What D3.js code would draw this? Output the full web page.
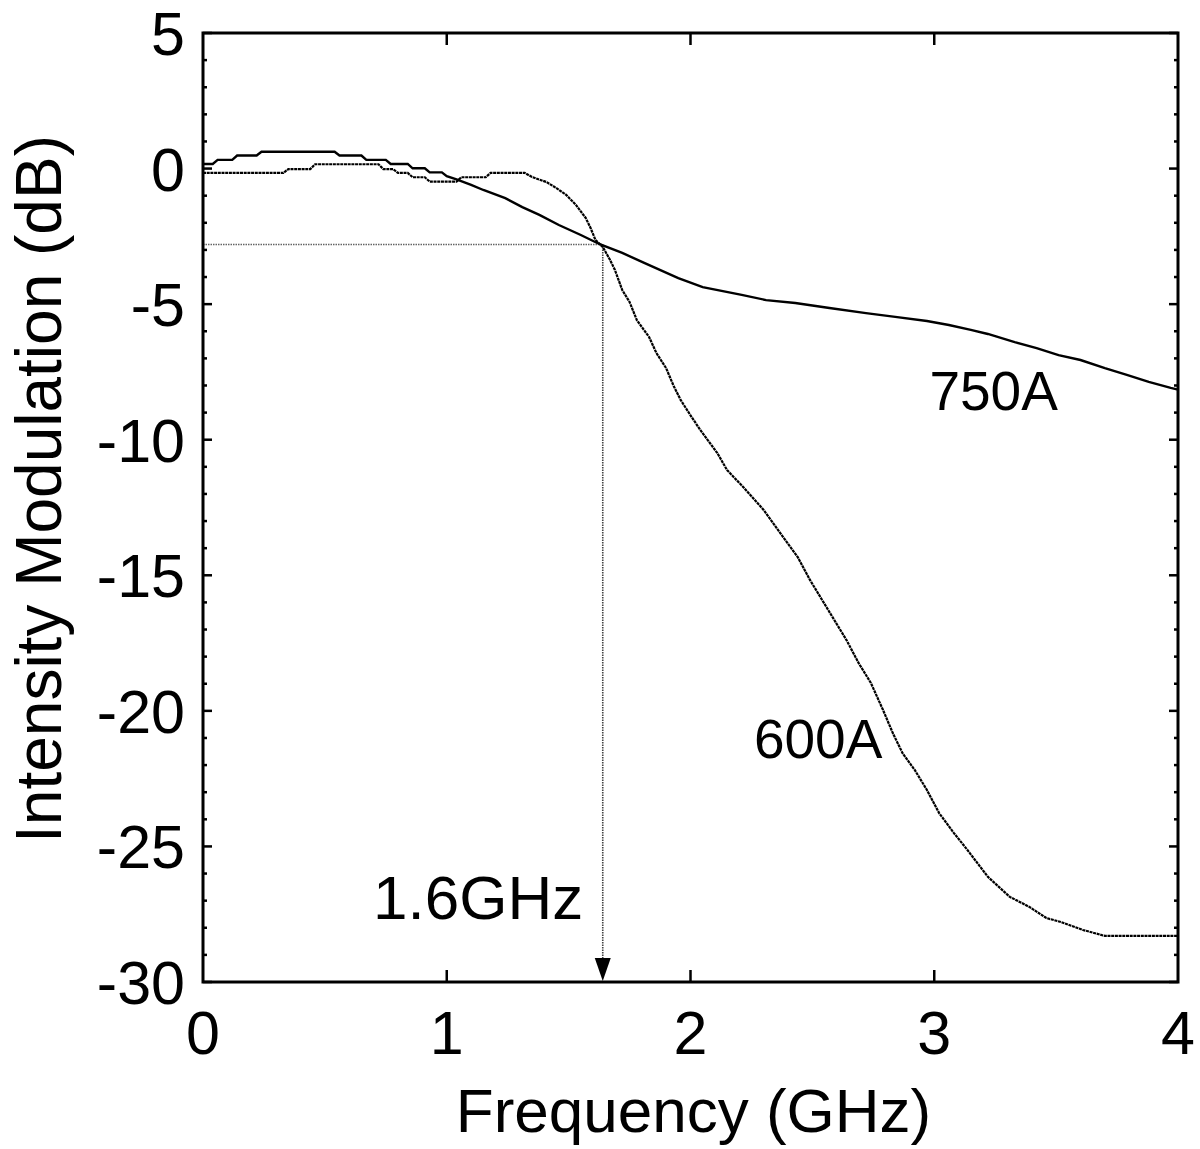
<!DOCTYPE html>
<html>
<head>
<meta charset="utf-8">
<script src="https://cdn.jsdelivr.net/npm/d3@7"></script>
<style>
  body { margin: 0; background: #fff; }
  svg text { font-family: "Liberation Sans", Arial, Helvetica, sans-serif; fill: #000; }
</style>
</head>
<body>
<div id="chart"></div>
<script>
// 750A trace (GHz, dB)
const freq750 = [0, 0.04, 0.06, 0.12, 0.14, 0.22, 0.24, 0.54, 0.56, 0.65, 0.67, 0.75, 0.77, 0.84, 0.86, 0.91, 0.93, 0.98, 1.00, 1.04, 1.10, 1.15, 1.24, 1.31, 1.38, 1.46, 1.55, 1.63, 1.72, 1.81, 1.95, 2.05, 2.21, 2.31, 2.43, 2.57, 2.72, 2.84, 2.97, 3.06, 3.15, 3.22, 3.33, 3.42, 3.51, 3.60, 3.70, 3.79, 3.88, 3.97, 4.0];
const db750 = [0.17, 0.17, 0.32, 0.32, 0.48, 0.48, 0.62, 0.62, 0.48, 0.48, 0.32, 0.32, 0.17, 0.17, 0.01, 0.01, -0.14, -0.14, -0.28, -0.40, -0.60, -0.79, -1.09, -1.42, -1.71, -2.08, -2.45, -2.80, -3.11, -3.48, -4.04, -4.37, -4.66, -4.85, -4.96, -5.14, -5.33, -5.47, -5.62, -5.77, -5.95, -6.10, -6.40, -6.62, -6.88, -7.06, -7.36, -7.61, -7.87, -8.09, -8.15];

// 600A trace (GHz, dB)
const freq600 = [0, 0.33, 0.35, 0.44, 0.46, 0.72, 0.74, 0.78, 0.80, 0.84, 0.86, 0.91, 0.93, 1.04, 1.06, 1.16, 1.18, 1.32, 1.35, 1.41, 1.45, 1.49, 1.53, 1.57, 1.59, 1.61, 1.64, 1.67, 1.69, 1.72, 1.75, 1.78, 1.83, 1.86, 1.90, 1.93, 1.96, 2.00, 2.04, 2.11, 2.15, 2.22, 2.30, 2.38, 2.44, 2.49, 2.54, 2.59, 2.64, 2.69, 2.74, 2.79, 2.83, 2.87, 2.92, 2.97, 3.02, 3.08, 3.13, 3.22, 3.31, 3.39, 3.46, 3.52, 3.61, 3.70, 4.0];
const db600 = [-0.16, -0.16, -0.02, -0.02, 0.16, 0.16, -0.02, -0.02, -0.16, -0.16, -0.32, -0.32, -0.48, -0.48, -0.32, -0.32, -0.16, -0.16, -0.31, -0.50, -0.72, -0.97, -1.34, -1.82, -2.19, -2.63, -2.89, -3.37, -3.74, -4.48, -4.92, -5.59, -6.21, -6.80, -7.36, -8.00, -8.54, -9.10, -9.64, -10.49, -11.12, -11.78, -12.59, -13.59, -14.33, -15.17, -15.91, -16.65, -17.39, -18.24, -18.97, -19.97, -20.82, -21.56, -22.18, -22.92, -23.77, -24.50, -25.06, -26.12, -26.86, -27.23, -27.64, -27.79, -28.08, -28.30, -28.30];

const xTicks = [0, 1, 2, 3, 4];
const yTicks = [5, 0, -5, -10, -15, -20, -25, -30];
const yMinorTicks = d3.range(-30, 6, 1);

// 3 dB marker
const cutoffFreq = 1.64;
const cutoffDb = -2.8;

const series = [
  { name: "750A", f: freq750, v: db750, label: [2.98, -8.9] },
  { name: "600A", f: freq600, v: db600, label: [2.26, -21.75] }
];

const width = 1200, height = 1149;
const margin = { top: 33, right: 22, bottom: 167, left: 203 };

const svg = d3.select("#chart").append("svg")
  .attr("width", width)
  .attr("height", height);

const x = d3.scaleLinear().domain([0, 4]).range([margin.left, width - margin.right]);
const y = d3.scaleLinear().domain([-30, 5]).range([height - margin.bottom, margin.top]);

// minor / major ticks on all four sides
const tickG = svg.append("g").attr("stroke", "#000");
yMinorTicks.forEach(d => {
  const len = d % 5 === 0 ? 9 : 4;
  tickG.append("line").attr("x1", x(0)).attr("x2", x(0) + len)
    .attr("y1", y(d)).attr("y2", y(d)).attr("stroke-width", 2.5);
  tickG.append("line").attr("x1", x(4)).attr("x2", x(4) - len)
    .attr("y1", y(d)).attr("y2", y(d)).attr("stroke-width", 2.5);
});
xTicks.slice(1, -1).forEach(d => {
  tickG.append("line").attr("x1", x(d)).attr("x2", x(d))
    .attr("y1", y(-30)).attr("y2", y(-30) - 12).attr("stroke-width", 2.5);
  tickG.append("line").attr("x1", x(d)).attr("x2", x(d))
    .attr("y1", y(5)).attr("y2", y(5) + 12).attr("stroke-width", 2.5);
});

// tick labels
svg.append("g").selectAll("text")
  .data(yTicks)
  .join("text")
  .attr("x", x(0) - 18)
  .attr("y", d => y(d))
  .attr("dy", "0.36em")
  .attr("text-anchor", "end")
  .style("font-size", "61px")
  .text(d => d);

svg.append("g").selectAll("text")
  .data(xTicks)
  .join("text")
  .attr("x", d => x(d))
  .attr("y", 1054)
  .attr("text-anchor", "middle")
  .style("font-size", "61px")
  .text(d => d);

// axis titles
svg.append("text")
  .attr("x", (x(0) + x(4)) / 2 + 3)
  .attr("y", 1132)
  .attr("text-anchor", "middle")
  .style("font-size", "62px")
  .text("Frequency (GHz)");

svg.append("text")
  .attr("transform", `translate(61,489) rotate(-90)`)
  .attr("text-anchor", "middle")
  .style("font-size", "64px")
  .text("Intensity Modulation (dB)");

// 3 dB guide lines
svg.append("line")
  .attr("x1", x(0)).attr("x2", x(cutoffFreq))
  .attr("y1", y(cutoffDb)).attr("y2", y(cutoffDb))
  .attr("stroke", "#666").attr("stroke-width", 1.6)
  .attr("stroke-dasharray", "1.5,1");

svg.append("line")
  .attr("x1", x(cutoffFreq)).attr("x2", x(cutoffFreq))
  .attr("y1", y(cutoffDb)).attr("y2", y(-30) - 22)
  .attr("stroke", "#444").attr("stroke-width", 1.6)
  .attr("stroke-dasharray", "1.5,1");

svg.append("path")
  .attr("d", `M${x(cutoffFreq) - 8},${y(-30) - 24} L${x(cutoffFreq) + 8},${y(-30) - 24} L${x(cutoffFreq)},${y(-30) - 1} Z`)
  .attr("fill", "#000");

svg.append("text")
  .attr("x", 373)
  .attr("y", 919)
  .style("font-size", "62px")
  .text(`${cutoffFreq.toFixed(1)}GHz`);

// traces
const line = d3.line()
  .x(d => x(d[0]))
  .y(d => y(d[1]));

svg.append("path")
  .datum(freq750.map((f, i) => [f, db750[i]]))
  .attr("d", line)
  .attr("fill", "none")
  .attr("stroke", "#000")
  .attr("stroke-width", 2.4);

svg.append("path")
  .datum(freq600.map((f, i) => [f, db600[i]]))
  .attr("d", line)
  .attr("fill", "none")
  .attr("stroke", "#000")
  .attr("stroke-width", 2.2)
  .attr("stroke-dasharray", "3,0.7");

// curve labels
svg.append("g").selectAll("text")
  .data(series)
  .join("text")
  .attr("x", d => x(d.label[0]))
  .attr("y", d => y(d.label[1]))
  .style("font-size", "55px")
  .text(d => d.name);

// frame
svg.append("rect")
  .attr("x", x(0)).attr("y", y(5))
  .attr("width", x(4) - x(0)).attr("height", y(-30) - y(5))
  .attr("fill", "none")
  .attr("stroke", "#000")
  .attr("stroke-width", 3);
</script>
</body>
</html>
